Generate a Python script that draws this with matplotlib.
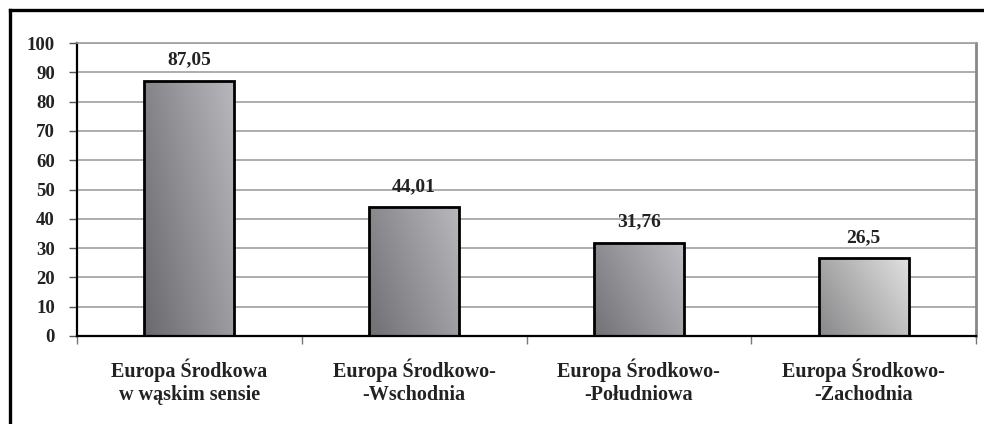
import matplotlib
matplotlib.use("Agg")
from matplotlib import pyplot as plt
from matplotlib.lines import Line2D
from matplotlib.patches import Rectangle
import numpy as np

plt.rcParams['font.family'] = ['Liberation Serif', 'DejaVu Serif']
plt.rcParams['font.weight'] = 'bold'

# dane
regiony = ["Europa Środkowa\nw wąskim sensie",
           "Europa Środkowo-\n-Wschodnia",
           "Europa Środkowo-\n-Południowa",
           "Europa Środkowo-\n-Zachodnia"]
wartosci = [87.05, 44.01, 31.76, 26.5]
etykiety = ["87,05", "44,01", "31,76", "26,5"]
y_ticks = list(range(0, 101, 10))

# kolory gradientu słupków (ciemny, jasny)
gradienty = [("#6a6a6e", "#b8b8bc"),
             ("#707074", "#b8b8bc"),
             ("#727276", "#bebec2"),
             ("#88888a", "#e0e0e0")]

fig = plt.figure(figsize=(9.84, 4.24), dpi=100)
ax = fig.add_axes([77 / 984, 88 / 424, (976 - 77) / 984, (336 - 43) / 424])

x = np.arange(len(wartosci))
szer = 0.4

# słupki z gradientem
u, v = np.meshgrid(np.linspace(0, 1, 64), np.linspace(0, 1, 64))
t = 0.65 * u + 0.35 * v
for i, (xi, h) in enumerate(zip(x, wartosci)):
    c0 = np.array(matplotlib.colors.to_rgb(gradienty[i][0]))
    c1 = np.array(matplotlib.colors.to_rgb(gradienty[i][1]))
    img = c0 + (c1 - c0) * t[..., None]
    im = ax.imshow(img, extent=[xi - szer / 2, xi + szer / 2, 0, h],
                   origin="lower", aspect="auto", zorder=2, interpolation="bilinear")
    r = Rectangle((xi - szer / 2, 0), szer, h, transform=ax.transData)
    im.set_clip_path(r)

ax.bar(x, wartosci, width=szer, facecolor="none", edgecolor="black", linewidth=2, zorder=3)

for xi, h, txt in zip(x, wartosci, etykiety):
    ax.text(xi, h + 4.2, txt, ha="center", va="bottom", fontsize=14,
            fontweight="bold", color="#222222", zorder=4)

ax.set_xlim(-0.5, 3.5)
ax.set_ylim(0, 100)
ax.set_yticks(y_ticks)
ax.set_yticklabels([str(v) for v in y_ticks], fontsize=13.5, color="#222222")
ax.tick_params(axis="y", length=6, width=1, color="#555555", pad=10)

ax.set_xticks(x)
ax.set_xticklabels(regiony, fontsize=14.5, color="#222222", linespacing=1.25)
ax.tick_params(axis="x", which="major", length=0, pad=16)
ax.set_xticks(np.arange(-0.5, 4, 1), minor=True)
ax.tick_params(axis="x", which="minor", length=6, width=1, color="#777777", direction="out")

ax.yaxis.grid(True, color="#a0a0a0", linewidth=1.2, zorder=0)
ax.set_axisbelow(True)

ax.spines["left"].set_color("black")
ax.spines["left"].set_linewidth(1.6)
ax.spines["bottom"].set_color("black")
ax.spines["bottom"].set_linewidth(1.6)
ax.spines["top"].set_color("#a0a0a0")
ax.spines["top"].set_linewidth(1.2)
ax.spines["right"].set_color("#888888")
ax.spines["right"].set_linewidth(2)

# ramka wokół wykresu
fig.add_artist(Line2D([10 / 984, 10 / 984], [0, 414 / 424], color="black", linewidth=2.4))
fig.add_artist(Line2D([10 / 984, 1], [414 / 424, 414 / 424], color="black", linewidth=2.4))

fig.savefig("out.png", dpi=100)
